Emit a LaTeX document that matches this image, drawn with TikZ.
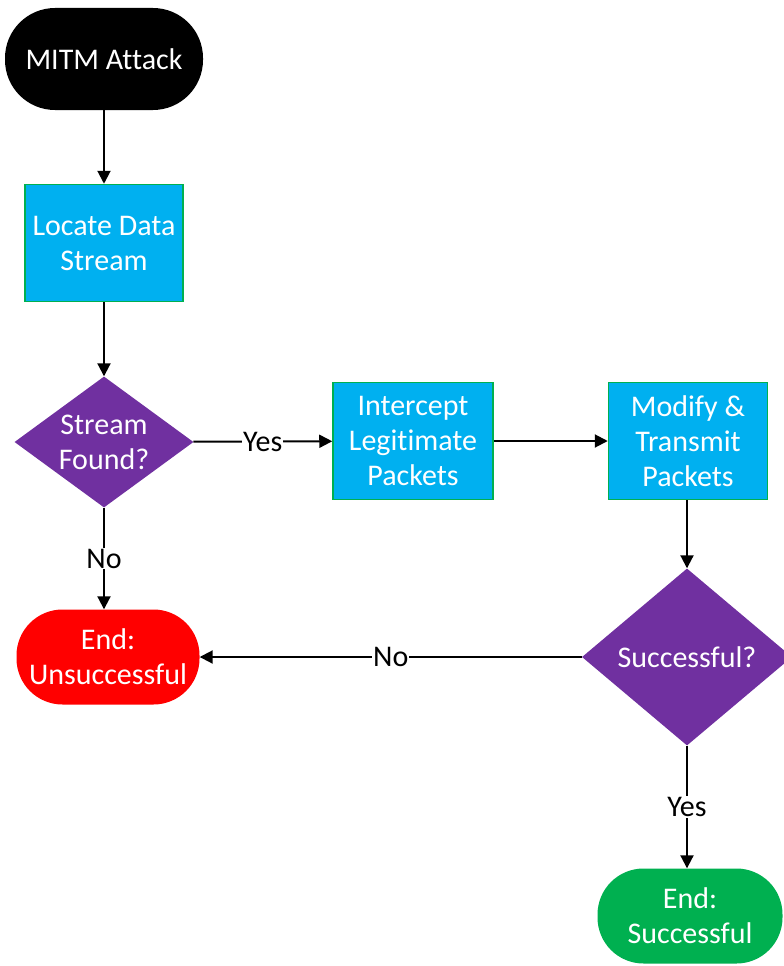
\documentclass[tikz,border=0pt]{standalone}
\usepackage{fontspec}
\setmainfont{Carlito}[Ligatures=NoCommon]
\usetikzlibrary{shapes.geometric,arrows.meta}
\definecolor{boxblue}{HTML}{00B0F0}
\definecolor{boxgreen}{HTML}{00B050}
\definecolor{decpurple}{HTML}{7030A0}
\definecolor{endred}{HTML}{FF0000}
\begin{document}
\begin{tikzpicture}[x=1pt, y=-1pt,
  every node/.style={font=\fontsize{30}{35}\selectfont, align=center},
  term/.style={rectangle, text=white, inner sep=2pt, minimum width=184pt, minimum height=95pt, rounded corners=46pt},
  procbox/.style={rectangle, draw=boxgreen, fill=boxblue, text=white, line width=1.5pt, minimum width=158pt, minimum height=117pt},
  decide/.style={diamond, fill=decpurple, text=white, inner sep=0pt, aspect=1.4},
  arr/.style={-{Triangle[length=13pt,width=13pt]}, line width=2pt},
  lbl/.style={fill=white, inner sep=1pt}]
  \useasboundingbox (0,0) rectangle (784,966);
  \node[term, fill=black, minimum width=198pt, minimum height=102pt, rounded corners=50pt] (mitm) at (104,59) {MITM Attack};
  \node[procbox] (locate) at (104,243) {Locate Data\\Stream};
  \node[decide, minimum width=179pt, minimum height=131pt] (found) at (104,442) {Stream\\Found?};
  \node[procbox, minimum width=160pt] (intercept) at (413,441) {Intercept\\Legitimate\\Packets};
  \node[procbox, minimum width=159pt] (modify) at (688,441) {Modify \&\\Transmit\\Packets};
  \node[decide, minimum width=210pt, minimum height=177pt] (success) at (687,657) {Successful?};
  \node[term, fill=endred, minimum width=183pt] (fail) at (108,657) {End:\\Unsuccessful};
  \node[term, fill=boxgreen, minimum width=185pt] (done) at (690,916) {End:\\Successful};

  \draw[arr] (mitm) -- (locate);
  \draw[arr] (locate) -- (found);
  \draw[arr] (found) -- node[lbl] {Yes} (intercept);
  \draw[arr] (found) -- node[lbl] {No} (found |- fail.north);
  \draw[arr] (intercept) -- (modify);
  \draw[arr] (modify.south -| success) -- (success);
  \draw[arr] (success) -- node[lbl] {No} (fail);
  \draw[arr] (success) -- node[lbl] {Yes} (success |- done.north);
\end{tikzpicture}
\end{document}
